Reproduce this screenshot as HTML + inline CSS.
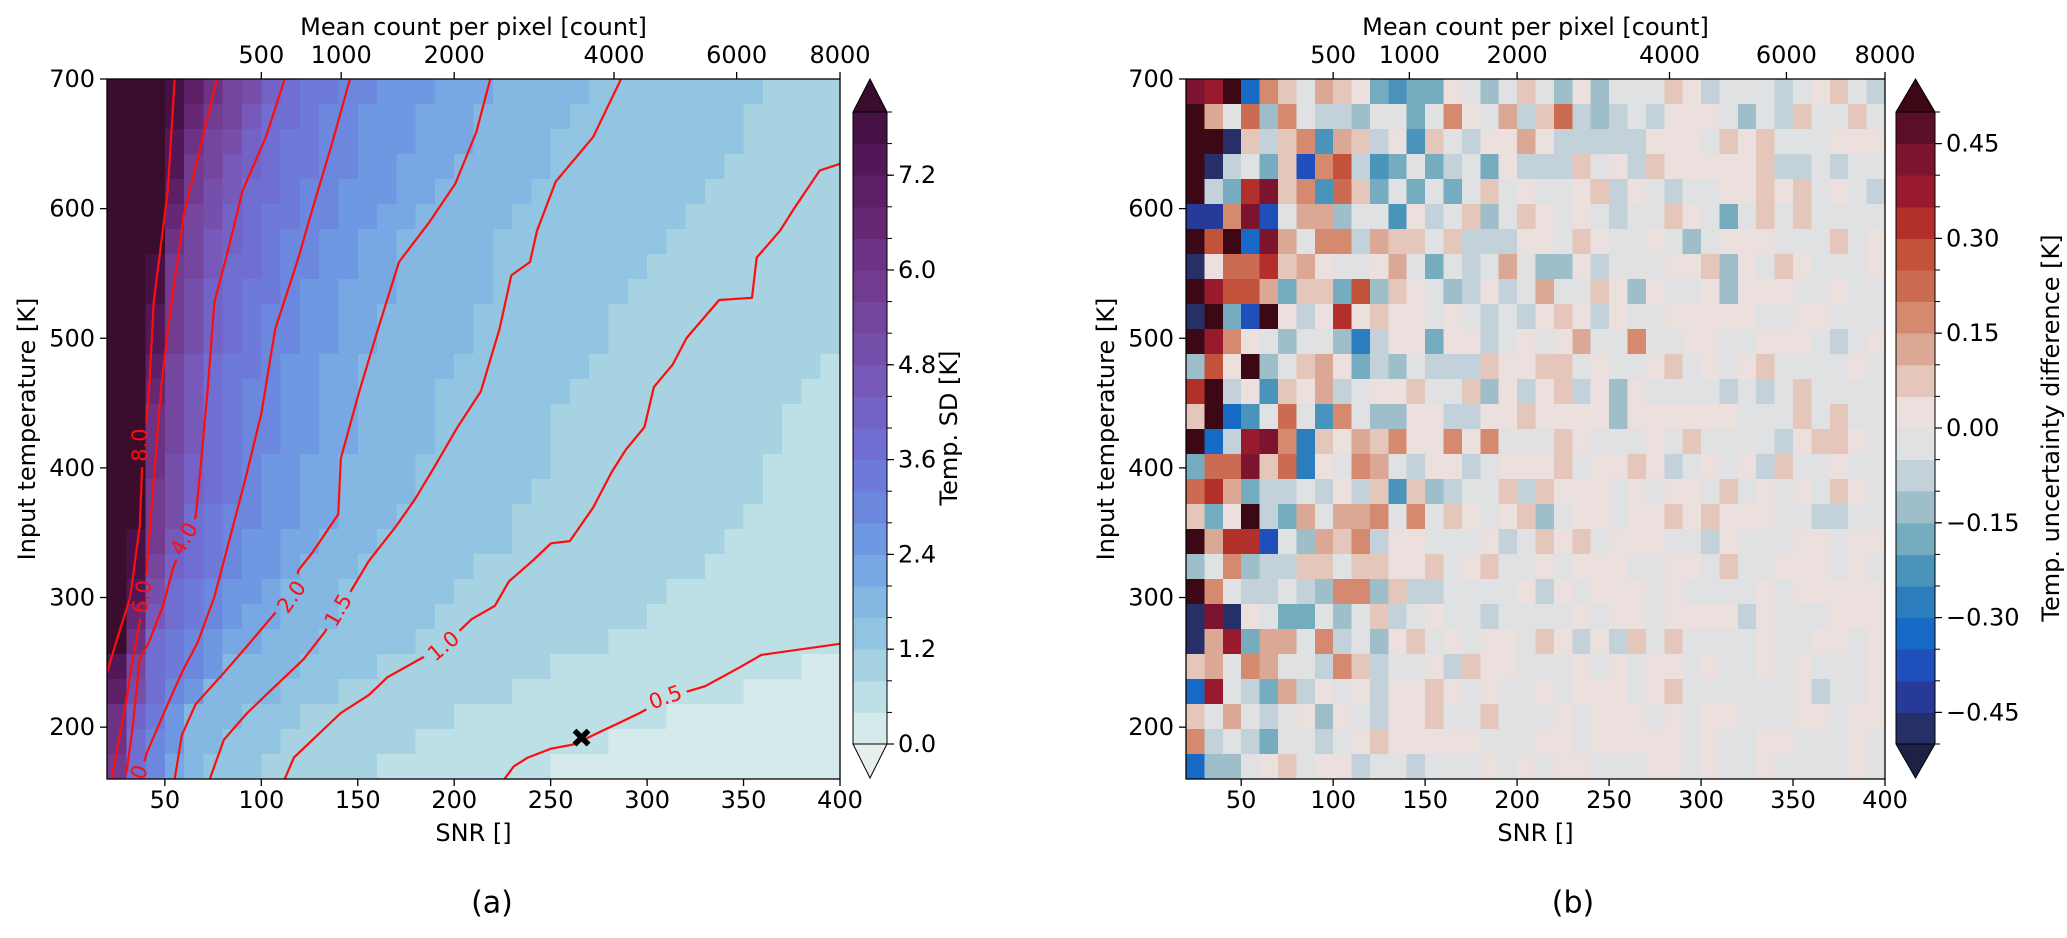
<!DOCTYPE html>
<html><head><meta charset="utf-8">
<style>
html,body{margin:0;padding:0;background:#fff;}
svg{display:block;font-family:"DejaVu Sans","Liberation Sans",sans-serif;}
</style></head>
<body>
<svg id="fig" xmlns="http://www.w3.org/2000/svg" width="2067" height="938" viewBox="0 0 2067 938">
<defs>
<clipPath id="clipL"><rect x="107" y="79" width="733" height="700"/></clipPath>
<mask id="labelMask" maskUnits="userSpaceOnUse" x="0" y="0" width="2067" height="938"><rect x="0" y="0" width="2067" height="938" fill="#fff"/><g id="maskHoles"></g></mask>
</defs>
<rect x="0" y="0" width="2067" height="938" fill="#fff"/>
<g id="panelA"></g>
<g id="panelB"></g>
</svg>
<script>
// ---------- data: panel (a) temperature SD levels (band index, 0.4 K steps; k = over 8.0) ----------
const sdRows = [
"kkkjhfdca"+"988"+"77"+"666"+"555"+"44444"+"333333333"+"2222",
"kkkjgedb"+"998"+"77"+"666"+"555"+"44444"+"333333333"+"22222",
"kkkifdca"+"98877"+"666"+"555"+"4444"+"3333333333"+"22222",
"kkkiedba"+"98877"+"66"+"555"+"44444"+"333333333"+"222222",
"kkkhecb"+"99877"+"666"+"55"+"44444"+"333333333"+"2222222",
"kkkgdca"+"98877"+"66"+"55"+"44444"+"333333333"+"22222222",
"kkkfdba"+"98776655"+"44444"+"333333333"+"222222222",
"kkjedb"+"99877"+"66"+"55"+"44444"+"33333333"+"2222222222",
"kkjeca"+"9887"+"66"+"555"+"44444"+"3333333"+"22222222222",
"kkieca"+"9877"+"66"+"55"+"44444"+"3333333"+"222222222222",
"kkieca"+"9877"+"66"+"55"+"44444"+"3333333"+"222222222222",
"kkhdb"+"988766"+"55"+"44444"+"3333333"+"222222222222"+"1",
"kkgdb"+"987766"+"55"+"4444"+"3333333"+"222222222222"+"11",
"kkfdb"+"987766"+"55"+"4444"+"333333"+"222222222222"+"111",
"kkfdb"+"987766"+"55"+"4444"+"333333"+"222222222222"+"111",
"kkfca"+"98766"+"55"+"4444"+"3333333"+"22222222222"+"1111",
"kkeca"+"98766"+"55"+"4444"+"333333"+"222222222222"+"1111",
"kkec"+"987766"+"55"+"444"+"333333"+"222222222222"+"11111",
"kjeb"+"98766"+"55"+"444"+"3333333"+"22222222222"+"111111",
"kjda"+"98766"+"5"+"444"+"333333"+"222222222222"+"1111111",
"kic"+"98766"+"5"+"444"+"333333"+"22222222222"+"111111111",
"kgb"+"987655"+"444"+"33333"+"22222222222"+"1111111111",
"kf"+"987655"+"444"+"33333"+"2222222222"+"111111111111",
"id"+"98764444"+"3333"+"222222222"+"1111111111111"+"00",
"hc"+"9764444"+"333"+"222222222"+"111111111111"+"00000",
"fa"+"86444333"+"22222222"+"11111111111"+"000000000",
"f"+"97644333"+"2222222"+"1111111111"+"000000000000",
"e"+"9754333"+"222222"+"111111111"+"000000000000000"
];
// ---------- data: panel (b) uncertainty difference (band a..t = -0.5..0.5 in 0.05 steps, U under, V over) ----------
const diffRows = [
"srVdnljmlkgfg"+"gkjhjljhkhjjjlkijjjijklji",
"Vmjohnjiihjjg"+"jnkjmiloihijikkkjhjiljjlj",
"VValilnfmlikf"+"ljikkmkiiiiikkkjlkljjjkkk",
"Vaijglcnpifgj"+"gijgkiiiljkilkkkkkliijijj",
"Vigqslnfolgjg"+"jgjljkjjklikjijjkklkljkji",
"bbnscjmmhjjfk"+"ijlhjlkjkjijjlkjgjljljjjj",
"VpVdsmjnnimll"+"jliiikkjlkjjkjhjkkkjjjljk",
"akooqlmkjjkmj"+"gjijmjhhkijjjkklhkjlkjjjk",
"Vrppmgllgphlk"+"jhikijmjjlkhkjjkhkkkjjkjj",
"aVgcVkikqklkk"+"jkjijiklkikjjkkkkkjjkkjjj",
"Vrnkjhjjheikk"+"gkkijkjkmjjnjjkkjjkkkjijk",
"hpkVhjlmkgihj"+"iiilkklljkjjkljkjkljjjjkj",
"qVikflkmijkkl"+"jjlhkiklikhkjjjjijijljjjj",
"lVdfjojfnjhhk"+"kiikklkkkkhkkkkkkjjjljljj",
"Vdirsnelkmlnk"+"knknjjjlkjjjkjljjjjikllkj",
"goosloekjnmji"+"kkijkkkljkklkijkjkiljjkjj",
"oqmgiijikilfl"+"hijjlilkkkjkjkkjljkjkjlkj",
"lgkVigmjmmnjn"+"jlkjklhjkkjkklklkkkjjiijj",
"Vmqqcjhmlnikk"+"jjjkijlkljkkkjjikjjjkkjkk",
"hjnhiilljllkk"+"ljkljjkjkkkjjkkjljjkkkjkj",
"Vnjiijihnnhli"+"ijjjjkikjkkkjkjjjjkjkkkkk",
"asakjggjhjlij"+"kjjijjjjkjkkjkkkkikjjjkkk",
"amrgmmjnijhkl"+"jkjkkjlkikiljljjjjkjjkkjk",
"lmjnmjjinlijj"+"kilkkjjjkjkjkkjkjjkjkjjjk",
"drjigmikjkikk"+"lkjkjjkjkkkjkljjjjjjkijjk",
"ljmjijkhkjikk"+"ljjljjjkjkkkjkjkkjjjkkjkk",
"nijigjjijklkk"+"kkkjjjkkjkkkkkjkjjkkjjjkj",
"dhhjkljkkijji"+"jjjkjkjkkjjjkkjkjjkjjjjkj"
];
// ---------- axis tick data ----------
const snrTicks = [50,100,150,200,250,300,350,400];
const tempTicks = [200,300,400,500,600,700];
const countTicks = [500,1000,2000,4000,6000,8000];
const sdTickVals = [0.0,1.2,2.4,3.6,4.8,6.0,7.2];
const sdTickLabels = ["0.0","1.2","2.4","3.6","4.8","6.0","7.2"];
const diffTickVals = [-0.45,-0.30,-0.15,0.0,0.15,0.30,0.45];
const diffTickLabels = ["\u22120.45","\u22120.30","\u22120.15","0.00","0.15","0.30","0.45"];
// ---------- contour data (SNR, temperature) ----------
const c80 = [[55.1,700],[51.5,613.9],[44.2,527.8],[41.8,458.9],[38.2,400.4],[37,355.6],[32.1,300.5],[24.8,266],[20,241.9]];
const c60 = [[76.9,700],[68.5,648.3],[60,596.7],[55.1,545],[51.5,507],[47.9,458.9],[44.2,390],[39.4,300.5],[33.3,252.3],[29.7,217.8],[22.4,160]];
const c40 = [[112.1,700],[102.4,655.2],[90.3,613.9],[81.8,562.2],[75.7,527.8],[72.1,458.9],[68.5,400.4],[66,362.5],[60,345.3],[53.9,321.2],[49.1,293.6],[41.8,266],[37,252.3],[33.3,200.6],[29.7,160]];
const c30 = [[146,700],[136.3,648.3],[126.6,600.1],[119.3,562.2],[107.2,507.1],[100,441.7],[91.5,390],[83,341.8],[75.7,300.5],[67.2,266],[58.8,241.9],[51.5,217.8],[40.6,180],[37,160]];
const c20 = [[218.7,700],[211.4,658.7],[200.5,619.1],[187.2,589.8],[171.4,558.8],[160.5,507.1],[150.8,458.9],[141.2,407.3],[139.9,364.2],[126.6,334.9],[119.3,321.1],[115.7,300.5],[108.4,290.2],[92.7,262.6],[80.6,241.9],[66,217.8],[58.8,193.7],[55.1,160]];
const c15 = [[286.5,700],[272,655.2],[252.6,620.8],[242.9,582.9],[239.3,558.8],[229.6,548.5],[223.5,507.1],[213.8,458.9],[201.7,431.4],[189.6,400.4],[179.9,376.3],[170.2,355.6],[155.7,328.1],[146,303.9],[139.9,290.2],[132.7,273],[121.8,252.3],[102.4,224.7],[92.7,210.9],[80.6,190.3],[73.3,160]];
const c10 = [[400,634.6],[389.5,629.4],[376.2,600.1],[368.9,582.9],[356.8,562.2],[354.4,531.2],[337.4,529.5],[320.5,500.2],[313.2,479.6],[303.5,462.4],[298.6,431.4],[289,414.1],[281.7,396.9],[272,369.4],[259.9,343.5],[250.2,341.8],[240.5,328.1],[228.4,312.5],[221.1,293.6],[209,283.3],[194.5,262.6],[179.9,250.6],[165.4,238.5],[155.7,224.7],[141.2,210.9],[129,193.7],[116.9,176.5],[112.1,160]];
const c05 = [[400,264.3],[359.2,255.7],[347.1,245.4],[330.1,231.6],[310.8,223],[296.2,210.9],[286.5,204],[276.8,197.2],[262.3,186.8],[250.2,183.4],[238.1,176.5],[230.8,169.6],[226,160]];
const contourNames = ["8.0","6.0","4.0","3.0","2.0","1.5","1.0","0.5"];
const contourLines = [c80,c60,c40,c30,c20,c15,c10,c05];
const labelSNR = [37.0,38.2,60.0,35.0,115.7,139.9,194.5,309.5];
const labelTemp = [417.6,300.5,345.3,158,300.5,290.2,262.6,223];
const labelAngle = [-90,-80,-60,-70,-55,-60,-40,-20];
const markerSNR = [266];
const markerTemp = [192];

// ---------- colours ----------
const sdColors = ["#d5eaeb","#bde0e6","#a6d2e2","#92c5e2","#84b8e3","#78a8e4","#6f98e2","#6c88de","#6d7ad8","#706ed0","#7463c6","#7659b8","#764fab","#74469e","#713c90","#6c3283","#662875","#5d1f65","#521756","#461246","#3a0d2c"];
const sdUnder = "#e6f1ef";
const diffColors = ["#262f66","#283a97","#1f4fbb","#1669c5","#2b7dbd","#4a94bc","#76acbf","#9ebfc9","#c3d2da","#dfe1e3","#ebe0dd","#e4c6bb","#dba896","#d58a70","#cb6b52","#c2523a","#b3302a","#9a1a2d","#7c132f","#5c0e28"];
const diffOver = "#3c0816", diffUnder = "#1c2246";

// ---------- geometry / axis functions ----------
const NS = "http://www.w3.org/2000/svg";
const TOP = 79, BOT = 779;
const A = {x0:107, x1:840}, B = {x0:1186, x1:1885};
function yT(t){ return TOP + (700 - t) * (BOT - TOP) / 540; }
function xS(p, s){ return p.x0 + (s - 20) * (p.x1 - p.x0) / 380; }
function countToSNR(c){ return Math.sqrt(20 * c); }
function el(tag, attrs, parent){
  const e = document.createElementNS(NS, tag);
  for (const k in attrs) e.setAttribute(k, attrs[k]);
  if (parent) parent.appendChild(e);
  return e;
}
function txt(parent, x, y, s, size, anchor, extra){
  const t = el("text", {x:x, y:y, "font-size":size, "text-anchor":anchor||"middle", "dominant-baseline":"central", fill:"#000"}, parent);
  if (extra) for (const k in extra) t.setAttribute(k, extra[k]);
  t.textContent = s;
  return t;
}
const sdBandOf = ch => { const d = "0123456789abcdefghijk".indexOf(ch); return d < 0 ? 0 : d; };
const diffBandOf = ch => ch === "U" ? -1 : (ch === "V" ? 20 : "abcdefghijklmnopqrst".indexOf(ch));

function drawHeat(g, p, rows, colorOf){
  const nr = rows.length, nc = 38;
  const cells = el("g", {"shape-rendering":"crispEdges"}, g);
  
  
  for (let r = 0; r < nr; r++){
    const t0 = 700 - r * 540 / nr, t1 = 700 - (r + 1) * 540 / nr;
    for (let c = 0; c < nc; c++){
      const s0 = 20 + c * 380 / nc, s1 = 20 + (c + 1) * 380 / nc;
      const ch = rows[r][c] || rows[r][rows[r].length - 1];
      const x = xS(p, s0), y = yT(t0);
      const rect = el("rect", {x:x.toFixed(2), y:y.toFixed(2), width:(xS(p, s1) - x + 0.6).toFixed(2), height:(yT(t1) - y + 0.6).toFixed(2), fill:colorOf(ch)}, cells);
      
      
    }
  }
}

function drawAxes(g, p){
  const frame = el("rect", {x:p.x0, y:TOP, width:p.x1 - p.x0, height:BOT - TOP, fill:"none", stroke:"#000", "stroke-width":1.3}, g);
  
  
  const xa = el("g", {}, g);
  
  
  snrTicks.forEach(s => {
    const x = xS(p, s);
    el("line", {x1:x, y1:BOT, x2:x, y2:BOT + 7, stroke:"#000", "stroke-width":1.3}, xa);
    const t = txt(xa, x, BOT + 21, String(s), 24);
    
    
  });
  const xt = txt(g, (p.x0 + p.x1) / 2, 833, "SNR []", 24);
  
  
  const ta = el("g", {}, g);
  
  
  countTicks.forEach(c => {
    const x = xS(p, countToSNR(c));
    el("line", {x1:x, y1:TOP, x2:x, y2:TOP - 7, stroke:"#000", "stroke-width":1.3}, ta);
    const t = txt(ta, x, 55, String(c), 24);
    
    
  });
  const tt = txt(g, (p.x0 + p.x1) / 2, 27, "Mean count per pixel [count]", 24);
  
  
  const ya = el("g", {}, g);
  
  
  tempTicks.forEach(tv => {
    const y = yT(tv);
    el("line", {x1:p.x0, y1:y, x2:p.x0 - 7, y2:y, stroke:"#000", "stroke-width":1.3}, ya);
    const t = txt(ya, p.x0 - 12, y, String(tv), 24, "end");
    
    
  });
  const yx = p.x0 - 80, yy = (TOP + BOT) / 2;
  const yt = txt(g, yx, yy, "Input temperature [K]", 24, "middle", {transform:"rotate(-90 " + yx + " " + yy + ")"});
  
  
}

function drawColorbar(g, x0, w, nb, colors, over, under, vmin, vmax, tickVals, tickLabels, title, titleX){
  const top = 112, bot = 744;
  const yv = v => bot - (v - vmin) / (vmax - vmin) * (bot - top);
  const cb = el("g", {"shape-rendering":"crispEdges"}, g);
  
  
  for (let i = 0; i < nb; i++){
    const v0 = vmin + i * (vmax - vmin) / nb, v1 = vmin + (i + 1) * (vmax - vmin) / nb;
    el("rect", {x:x0, y:yv(v1), width:w, height:yv(v0) - yv(v1) + 0.5, fill:colors[i]}, cb);
  }
  const up = el("polygon", {points:x0 + "," + top + " " + (x0 + w) + "," + top + " " + (x0 + w / 2) + "," + TOP, fill:over, stroke:"#000", "stroke-width":1}, g);
  
  
  const dn = el("polygon", {points:x0 + "," + bot + " " + (x0 + w) + "," + bot + " " + (x0 + w / 2) + "," + (BOT - 1), fill:under, stroke:"#000", "stroke-width":1}, g);
  
  
  el("line", {x1:x0, y1:top, x2:x0, y2:bot, stroke:"#000", "stroke-width":1}, g);
  el("line", {x1:x0 + w, y1:top, x2:x0 + w, y2:bot, stroke:"#000", "stroke-width":1}, g);
  for (let i = 0; i <= nb; i++){
    const v = vmin + i * (vmax - vmin) / nb;
    el("line", {x1:x0 + w, y1:yv(v), x2:x0 + w + 5, y2:yv(v), stroke:"#000", "stroke-width":1}, g);
  }
  tickVals.forEach((v, i) => {
    el("line", {x1:x0 + w, y1:yv(v), x2:x0 + w + 7, y2:yv(v), stroke:"#000", "stroke-width":1.2}, g);
    const t = txt(g, x0 + w + 11, yv(v), tickLabels[i], 24, "start");
    
    
  });
  const ty = 428;
  const tl = txt(g, titleX, ty, title, 24, "middle", {transform:"rotate(-90 " + titleX + " " + ty + ")"});
  
  
}

// ---------- panel A ----------
const gA = document.getElementById("panelA");
drawHeat(gA, A, sdRows, ch => { const b = sdBandOf(ch); return b < 0 ? sdUnder : sdColors[b]; });
const holes = document.getElementById("maskHoles");
const cg = el("g", {"clip-path":"url(#clipL)"}, gA);


const lines = el("g", {mask:"url(#labelMask)"}, cg);
contourLines.forEach((pts, i) => {
  const d = pts.map((q, j) => (j ? "L" : "M") + xS(A, q[0]).toFixed(1) + "," + yT(q[1]).toFixed(1)).join(" ");
  const path = el("path", {d:d, fill:"none", stroke:"#ff0d0d", "stroke-width":2.2, "stroke-linejoin":"round"}, lines);
  
  
});
contourNames.forEach((nm, i) => {
  const x = xS(A, labelSNR[i]), y = yT(labelTemp[i]);
  el("rect", {x:x - 22, y:y - 11, width:44, height:22, fill:"#000", transform:"rotate(" + labelAngle[i] + " " + x + " " + y + ")"}, holes);
  const t = txt(cg, x, y, nm, 21, "middle", {fill:"#ff0d0d", transform:"rotate(" + labelAngle[i] + " " + x + " " + y + ")"});
  
  
});
markerSNR.forEach((s, i) => {
  const x = xS(A, s), y = yT(markerTemp[i]);
  const m = el("path", {d:"M" + (x - 7) + "," + (y - 7) + " L" + (x + 7) + "," + (y + 7) + " M" + (x + 7) + "," + (y - 7) + " L" + (x - 7) + "," + (y + 7), stroke:"#000", "stroke-width":5.5, "stroke-linecap":"butt"}, gA);
  
  
});
drawAxes(gA, A);
drawColorbar(gA, 853, 34, 20, sdColors, sdColors[20], sdUnder, 0, 8, sdTickVals, sdTickLabels, "Temp. SD [K]", 949);
const la = txt(gA, 492, 903, "(a)", 30);



// ---------- panel B ----------
const gB = document.getElementById("panelB");
drawHeat(gB, B, diffRows, ch => { const b = diffBandOf(ch); return b < 0 ? diffUnder : (b > 19 ? diffOver : diffColors[b]); });
drawAxes(gB, B);
drawColorbar(gB, 1896, 39, 20, diffColors, diffOver, diffUnder, -0.5, 0.5, diffTickVals, diffTickLabels, "Temp. uncertainty difference [K]", 2051);
const lb = txt(gB, 1573, 903, "(b)", 30);


</script>
</body></html>
